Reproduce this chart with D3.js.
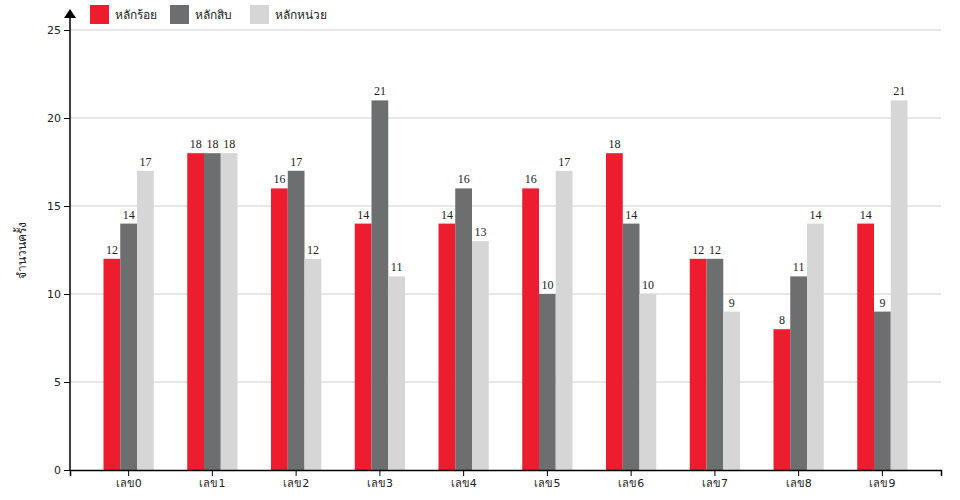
<!DOCTYPE html>
<html>
<head>
<meta charset="utf-8">
<script src="https://cdn.jsdelivr.net/npm/d3@7"></script>
<style>
  body { margin: 0; background: #fff; }
  text { font-family: "DejaVu Sans", "Noto Sans", sans-serif; }
</style>
</head>
<body>
<div id="chart"></div>
<script>
// ข้อมูล
var categories = ["เลข0", "เลข1", "เลข2", "เลข3", "เลข4", "เลข5", "เลข6", "เลข7", "เลข8", "เลข9"];
var seriesNames = ["หลักร้อย", "หลักสิบ", "หลักหน่วย"];
var hundreds = [12, 18, 16, 14, 14, 16, 18, 12, 8, 14];
var tens = [14, 18, 17, 21, 16, 10, 14, 12, 11, 9];
var units = [17, 18, 12, 11, 13, 17, 10, 9, 14, 21];
var yTicks = [0, 5, 10, 15, 20, 25];
var colors = ["#ed1c2e", "#6d6e70", "#d6d6d6"];

var margin = { left: 70, top: 30, bottom: 30, right: 19 };
var W = 960, H = 500;
var width = W - margin.left - margin.right;
var height = H - margin.top - margin.bottom;

var rows = categories.map(function (c, i) {
  return { cat: c, vals: [hundreds[i], tens[i], units[i]] };
});

var svg = d3.select("#chart").append("svg")
  .attr("width", W).attr("height", H);
var g = svg.append("g")
  .attr("transform", "translate(" + margin.left + "," + margin.top + ")");

var x0 = d3.scaleBand().domain(categories).range([0, width]).padding(0.4);
var x1 = d3.scaleBand().domain([0, 1, 2]).range([0, x0.bandwidth()]);
var y = d3.scaleLinear().domain([0, 25]).range([height, 0]);

// gridlines
g.selectAll(".grid").data(yTicks.slice(1)).enter().append("line")
  .attr("x1", 0).attr("x2", width)
  .attr("y1", d => y(d)).attr("y2", d => y(d))
  .attr("stroke", "#d0d0d0").attr("stroke-width", 1);

// bars
var grp = g.selectAll(".grp").data(rows).enter().append("g")
  .attr("transform", d => "translate(" + x0(d.cat) + ",0)");
grp.selectAll("rect").data(d => d.vals).enter().append("rect")
  .attr("x", (d, i) => x1(i))
  .attr("width", x1.bandwidth())
  .attr("y", d => y(d))
  .attr("height", d => height - y(d))
  .attr("fill", (d, i) => colors[i]);
grp.selectAll(".lbl").data(d => d.vals).enter().append("text")
  .attr("x", (d, i) => x1(i) + x1.bandwidth() / 2)
  .attr("y", d => y(d) - 5)
  .attr("text-anchor", "middle")
  .style("font-family", "'Liberation Serif', 'DejaVu Serif', serif")
  .style("font-size", "12px")
  .attr("fill", "#222")
  .text(d => d);

// axes
var xAxis = g.append("g").attr("transform", "translate(0," + height + ")")
  .call(d3.axisBottom(x0).tickSizeOuter(6));
xAxis.selectAll("text").style("font-size", "11px").attr("fill", "#222");
xAxis.select(".domain").attr("stroke-width", 1.5);

var yAxis = g.append("g").call(d3.axisLeft(y).tickValues(yTicks).tickSizeOuter(0));
yAxis.selectAll("text").style("font-size", "11px").attr("fill", "#222");
yAxis.select(".domain").remove();
yAxis.append("line").attr("x1", 0).attr("x2", 0)
  .attr("y1", height).attr("y2", -12)
  .attr("stroke", "#000").attr("stroke-width", 1.5);
yAxis.append("path").attr("d", "M-6,-12 L6,-12 L0,-21 Z").attr("fill", "#000");

// y label
svg.append("text")
  .attr("transform", "translate(26," + (margin.top + height / 2) + ") rotate(-90)")
  .attr("text-anchor", "middle")
  .style("font-size", "12px")
  .attr("fill", "#222")
  .text("จำนวนครั้ง");

// legend
var leg = svg.selectAll(".leg").data(seriesNames).enter().append("g")
  .attr("transform", (d, i) => "translate(" + (90 + i * 80) + ",5)");
leg.append("rect").attr("width", 19).attr("height", 19).attr("fill", (d, i) => colors[i]);
leg.append("text").attr("x", 25).attr("y", 14)
  .style("font-size", "12px").attr("fill", "#222").text(d => d);
</script>
</body>
</html>
